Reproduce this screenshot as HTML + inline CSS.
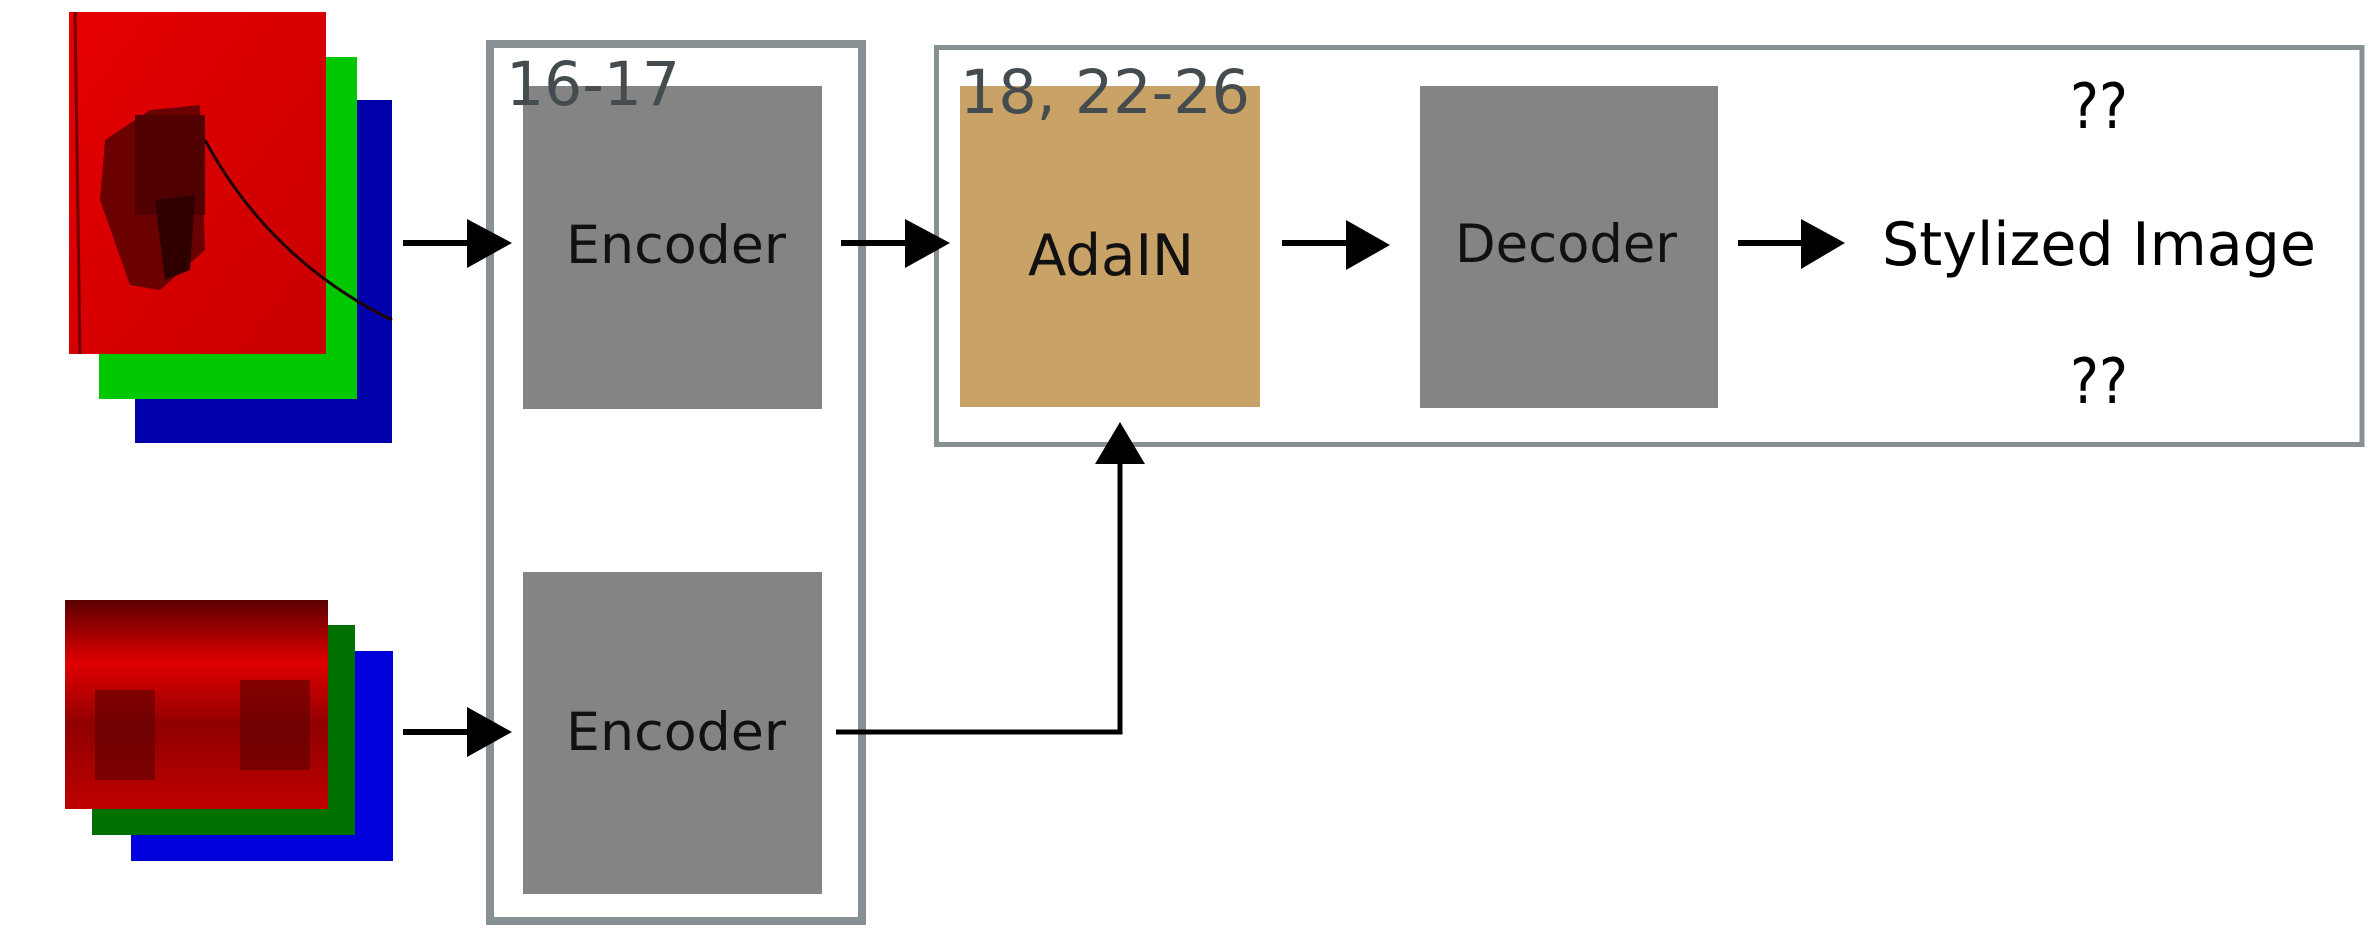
<!DOCTYPE html>
<html><head><meta charset="utf-8"><style>
html,body{margin:0;padding:0;background:#fff;}
svg{display:block;}
text{font-family:"DejaVu Sans","Liberation Sans",sans-serif;}
</style></head><body>
<svg width="2380" height="934" viewBox="0 0 2380 934" xmlns="http://www.w3.org/2000/svg">
<defs>
<linearGradient id="rg" x1="0" y1="0" x2="1" y2="1"><stop offset="0" stop-color="#e60000"/><stop offset="1" stop-color="#c80000"/></linearGradient>
<linearGradient id="bg2" x1="0" y1="0" x2="0" y2="1"><stop offset="0" stop-color="#5a0000"/><stop offset="0.3" stop-color="#e00000"/><stop offset="0.6" stop-color="#900000"/><stop offset="1" stop-color="#c00000"/></linearGradient>
</defs>
<!-- top image stack -->
<rect x="135" y="100" width="257" height="343" fill="#0000aa"/>
<rect x="99" y="57" width="258" height="342" fill="#00c800"/>
<rect x="69" y="12" width="257" height="342" fill="url(#rg)"/>
<path d="M105 140 L150 110 L200 105 L205 250 L160 290 L130 285 L100 200 Z" fill="#6a0000"/>
<rect x="135" y="115" width="70" height="100" fill="#500000"/>
<path d="M155 200 L195 195 L190 270 L165 280 Z" fill="#300000"/>
<line x1="75" y1="12" x2="80" y2="354" stroke="#700000" stroke-width="3"/>
<path d="M205 140 Q270 260 392 320" stroke="#200000" stroke-width="3" fill="none"/>
<!-- bottom image stack -->
<rect x="131" y="651" width="262" height="210" fill="#0000dd"/>
<rect x="92" y="625" width="263" height="210" fill="#007000"/>
<rect x="65" y="600" width="263" height="209" fill="url(#bg2)"/>
<rect x="95" y="690" width="60" height="90" fill="#5a0000" opacity="0.6"/>
<rect x="240" y="680" width="70" height="90" fill="#5a0000" opacity="0.6"/>
<!-- group boxes -->
<rect x="490" y="44" width="372" height="877" fill="none" stroke="#879092" stroke-width="8"/>
<rect x="936.5" y="47.5" width="1425.5" height="397" fill="none" stroke="#879092" stroke-width="5"/>
<!-- blocks -->
<rect x="523" y="86" width="299" height="323" fill="#848484"/>
<rect x="523" y="572" width="299" height="322" fill="#848484"/>
<rect x="960" y="86" width="300" height="321" fill="#c9a267"/>
<rect x="1420" y="86" width="298" height="322" fill="#848484"/>
<text x="506" y="105" font-size="61" fill="#454c4f" textLength="174" lengthAdjust="spacingAndGlyphs">16-17</text>
<text x="960" y="113" font-size="61" fill="#454c4f" textLength="290" lengthAdjust="spacingAndGlyphs">18, 22-26</text>
<text x="566" y="263" font-size="53" fill="#111" textLength="220" lengthAdjust="spacingAndGlyphs">Encoder</text>
<text x="566" y="750" font-size="53" fill="#111" textLength="220" lengthAdjust="spacingAndGlyphs">Encoder</text>
<text x="1028" y="275" font-size="57" fill="#111" textLength="166" lengthAdjust="spacingAndGlyphs">AdaIN</text>
<text x="1455" y="262" font-size="53" fill="#111" textLength="222" lengthAdjust="spacingAndGlyphs">Decoder</text>
<text x="1882" y="265" font-size="60" fill="#000" textLength="434" lengthAdjust="spacingAndGlyphs">Stylized Image</text>
<text x="2070" y="128" font-size="62" fill="#000" textLength="58" lengthAdjust="spacingAndGlyphs">??</text>
<text x="2070" y="403" font-size="62" fill="#000" textLength="58" lengthAdjust="spacingAndGlyphs">??</text>
<!-- arrows -->
<g fill="#000" stroke="none">
<rect x="403" y="240" width="70" height="6"/><polygon points="467,219 512,243 467,268"/>
<rect x="841" y="240" width="70" height="6"/><polygon points="905,219 950,243 905,268"/>
<rect x="1282" y="240" width="70" height="6"/><polygon points="1346,220 1390,245 1346,270"/>
<rect x="1738" y="240" width="70" height="6"/><polygon points="1801,219 1845,243 1801,269"/>
<rect x="403" y="729" width="70" height="6"/><polygon points="467,707 512,732 467,757"/>
</g>
<polyline points="836,732 1120,732 1120,460" fill="none" stroke="#000" stroke-width="5"/>
<polygon points="1095,464 1120,422 1145,464" fill="#000"/>
</svg>
</body></html>
